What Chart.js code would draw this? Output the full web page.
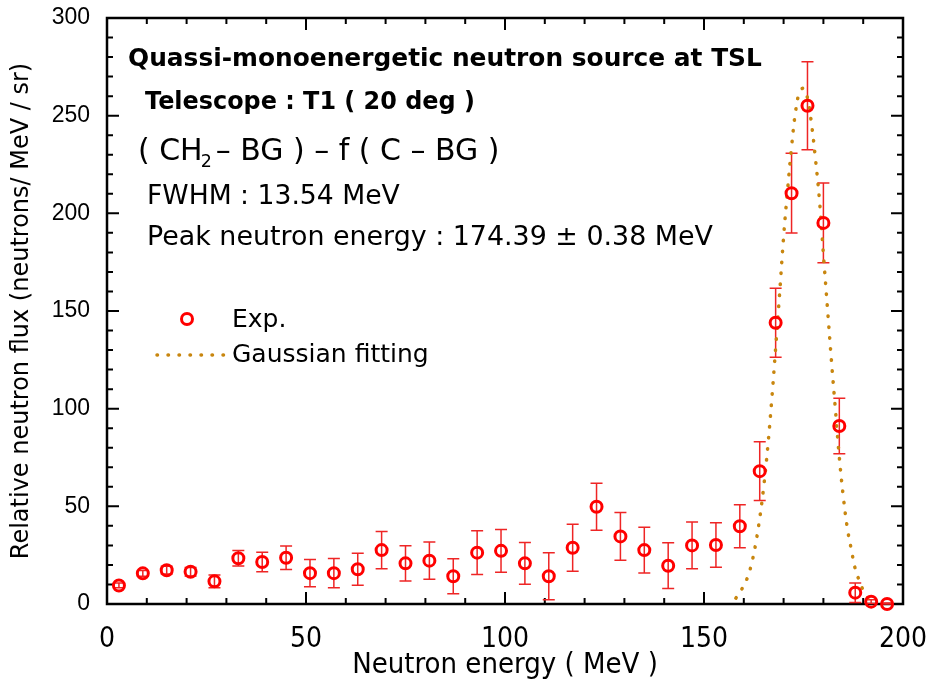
<!DOCTYPE html>
<html>
<head>
<meta charset="utf-8">
<script src="https://cdn.jsdelivr.net/npm/chart.js@4.4.1/dist/chart.umd.min.js"></script>
<style>
  body { margin: 0; background: #fff; }
  #chart { display: block; }
</style>
</head>
<body>
<canvas id="chart" width="928" height="691"></canvas>
<script>
// Exp. points: energy (MeV), relative flux, error
const expEnergy = [3, 9, 15, 21, 27, 33, 39, 45, 51, 57, 63, 69, 75, 81, 87, 93, 99, 105,
  111, 117, 123, 129, 135, 141, 147, 153, 159, 164, 168, 172, 176, 180, 184, 188, 192, 196];
const expFlux = [9.5, 15.7, 17.3, 16.5, 11.6, 23.4, 21.5, 23.7, 15.8, 15.8, 17.8, 27.6, 20.8, 22.2, 14.2, 26.3, 27.2, 20.8,
  14.2, 28.8, 49.8, 34.6, 27.6, 19.6, 30, 30.2, 39.8, 68, 144, 210.3, 255.1, 195.1, 91.1, 5.8, 1.2, 0];
const expError = [1.2, 1.5, 2, 2.2, 3.3, 4, 5, 6, 7, 7.5, 8.2, 9.5, 9, 9.5, 9, 11.2, 11, 10.7,
  12, 12, 12, 12.2, 11.7, 11.7, 12, 11.4, 11, 15, 17.7, 20.4, 22.5, 20.4, 14.2, 5, 1, 0.5];

// Gaussian fitting
const fitEnergy = [158, 159, 160, 161, 162, 163, 164, 165, 166, 167, 168, 169, 170, 171, 172, 173, 174, 175,
  176, 177, 178, 179, 180, 181, 182, 183, 184, 185, 186, 187, 188, 189, 190, 191, 192];
const fitFlux = [3, 6, 9.5, 14, 21, 31, 44, 60, 80, 104, 131, 159, 188, 212, 234, 252, 262, 264,
  259, 246, 228, 207, 179, 152, 125, 100, 75, 55, 39, 28, 18, 12, 7, 3.5, 1.5];

const xTicks = [0, 50, 100, 150, 200];
const yTicks = [0, 50, 100, 150, 200, 250, 300];

const RED = '#ff0000';
const FIT = '#c8860f';
const TEXT_FONT = '"DejaVu Sans", sans-serif';
const NARROW_FONT = '"Liberation Sans Narrow", "DejaVu Sans Condensed", sans-serif';

// error bars under the circles
const errorBars = {
  id: 'errorBars',
  beforeDatasetsDraw(chart) {
    const { ctx, scales: { x, y } } = chart;
    ctx.save();
    ctx.strokeStyle = '#ee2525';
    ctx.lineWidth = 1.5;
    expEnergy.forEach((e, i) => {
      const px = x.getPixelForValue(e);
      const top = y.getPixelForValue(expFlux[i] + expError[i]);
      const bot = y.getPixelForValue(Math.max(0, expFlux[i] - expError[i]));
      ctx.beginPath();
      ctx.moveTo(px, top); ctx.lineTo(px, bot);
      ctx.moveTo(px - 6, top); ctx.lineTo(px + 6, top);
      ctx.moveTo(px - 6, bot); ctx.lineTo(px + 6, bot);
      ctx.stroke();
    });
    ctx.restore();
  }
};

// box frame with inward ticks on all four sides
const frame = {
  id: 'frame',
  beforeDatasetsDraw(chart) {
    const { ctx, chartArea: a, scales: { x, y } } = chart;
    ctx.save();
    ctx.strokeStyle = '#000';
    ctx.lineWidth = 2.5;
    ctx.strokeRect(a.left, a.top, a.right - a.left, a.bottom - a.top);
    ctx.lineWidth = 2;
    ctx.beginPath();
    for (let v = 10; v < 200; v += 10) {
      const px = x.getPixelForValue(v);
      const len = v % 50 === 0 ? 12 : 6;
      ctx.moveTo(px, a.bottom); ctx.lineTo(px, a.bottom - len);
      ctx.moveTo(px, a.top); ctx.lineTo(px, a.top + len);
    }
    for (let v = 10; v < 300; v += 10) {
      const py = y.getPixelForValue(v);
      const len = v % 50 === 0 ? 12 : 6;
      ctx.moveTo(a.left, py); ctx.lineTo(a.left + len, py);
      ctx.moveTo(a.right, py); ctx.lineTo(a.right - len, py);
    }
    ctx.stroke();
    ctx.restore();
  }
};

function fitLine(ctx, text, x, y, width, weight) {
  ctx.font = `${weight} 24px ${TEXT_FONT}`;
  const size = 24 * width / ctx.measureText(text).width;
  ctx.font = `${weight} ${size}px ${TEXT_FONT}`;
  ctx.fillText(text, x, y);
}

// text block and legend inside the plot
const notes = {
  id: 'notes',
  afterDraw(chart) {
    const { ctx } = chart;
    ctx.save();
    ctx.fillStyle = '#000';
    ctx.textBaseline = 'middle';
    ctx.textAlign = 'left';
    fitLine(ctx, 'Quassi-monoenergetic neutron source at TSL', 128, 60, 634, 'bold');
    fitLine(ctx, 'Telescope : T1 ( 20 deg )', 145, 103, 330, 'bold');

    // ( CH2 - BG ) - f ( C - BG ) with subscript
    const a = '( CH', b = '2', c = '– BG ) – f ( C – BG )';
    ctx.font = `24px ${TEXT_FONT}`;
    const wa = ctx.measureText(a).width, wc = ctx.measureText(c).width;
    ctx.font = `14px ${TEXT_FONT}`;
    const wb = ctx.measureText(b).width;
    const k = 362 / (wa + wb + wc + 2);
    let cx = 138;
    ctx.font = `${24 * k}px ${TEXT_FONT}`;
    ctx.fillText(a, cx, 152); cx += wa * k;
    ctx.font = `${14 * k}px ${TEXT_FONT}`;
    ctx.fillText(b, cx - 2, 162); cx += wb * k + 2;
    ctx.font = `${24 * k}px ${TEXT_FONT}`;
    ctx.fillText(c, cx, 152);

    fitLine(ctx, 'FWHM : 13.54 MeV', 147, 197, 253, 'normal');
    fitLine(ctx, 'Peak neutron energy : 174.39 ± 0.38 MeV', 147, 238, 566, 'normal');

    // legend
    ctx.strokeStyle = RED;
    ctx.lineWidth = 3;
    ctx.beginPath();
    ctx.arc(187, 319, 5.5, 0, Math.PI * 2);
    ctx.stroke();
    ctx.strokeStyle = FIT;
    ctx.lineWidth = 3.5;
    ctx.lineCap = 'round';
    ctx.setLineDash([0.5, 10.5]);
    ctx.beginPath();
    ctx.moveTo(157, 355); ctx.lineTo(224, 355);
    ctx.stroke();
    ctx.setLineDash([]);
    ctx.font = `25px ${TEXT_FONT}`;
    ctx.fillText('Exp.', 232, 320);
    ctx.fillText('Gaussian fitting', 232, 355);
    ctx.restore();
  }
};

new Chart(document.getElementById('chart'), {
  type: 'scatter',
  data: {
    datasets: [{
      label: 'Exp.',
      data: expEnergy.map((e, i) => ({ x: e, y: expFlux[i] })),
      pointRadius: 5.5,
      pointBorderWidth: 3,
      pointBorderColor: RED,
      pointBackgroundColor: 'rgba(0,0,0,0)',
      showLine: false,
      clip: false,
      order: 1
    }, {
      label: 'Gaussian fitting',
      type: 'line',
      data: fitEnergy.map((e, i) => ({ x: e, y: fitFlux[i] })),
      borderColor: FIT,
      borderWidth: 3.5,
      borderDash: [0.5, 10.5],
      borderCapStyle: 'round',
      pointRadius: 0,
      tension: 0.4,
      fill: false,
      order: 2
    }]
  },
  options: {
    responsive: false,
    devicePixelRatio: 1,
    animation: false,
    layout: { padding: { left: 0, top: 18, right: 25, bottom: 0 } },
    plugins: {
      legend: { display: false },
      tooltip: { enabled: false }
    },
    scales: {
      x: {
        type: 'linear',
        min: 0,
        max: 200,
        grid: { display: false },
        border: { display: false },
        afterBuildTicks: s => { s.ticks = xTicks.map(v => ({ value: v })); },
        afterFit: s => { s.height = 87; s.paddingLeft = 0; s.paddingRight = 0; },
        ticks: {
          color: '#000',
          padding: 11,
          maxRotation: 0,
          font: { family: NARROW_FONT, size: 28 }
        },
        title: {
          display: true,
          text: 'Neutron energy ( MeV )',
          color: '#000',
          padding: { top: 0, bottom: 11 },
          font: { family: NARROW_FONT, size: 29, lineHeight: 1 }
        }
      },
      y: {
        type: 'linear',
        min: 0,
        max: 300,
        grid: { display: false },
        border: { display: false },
        afterBuildTicks: s => { s.ticks = yTicks.map(v => ({ value: v })); },
        afterFit: s => { s.width = 107; s.paddingTop = 0; s.paddingBottom = 0; },
        ticks: {
          color: '#000',
          padding: 9,
          font: { family: '"Liberation Sans", Arial, sans-serif', size: 23 }
        },
        title: {
          display: true,
          text: 'Relative neutron flux (neutrons/ MeV / sr)',
          color: '#000',
          padding: { top: 7, bottom: 0 },
          font: { family: TEXT_FONT, size: 24, lineHeight: 1.2 }
        }
      }
    }
  },
  plugins: [frame, errorBars, notes]
});
</script>
</body>
</html>
